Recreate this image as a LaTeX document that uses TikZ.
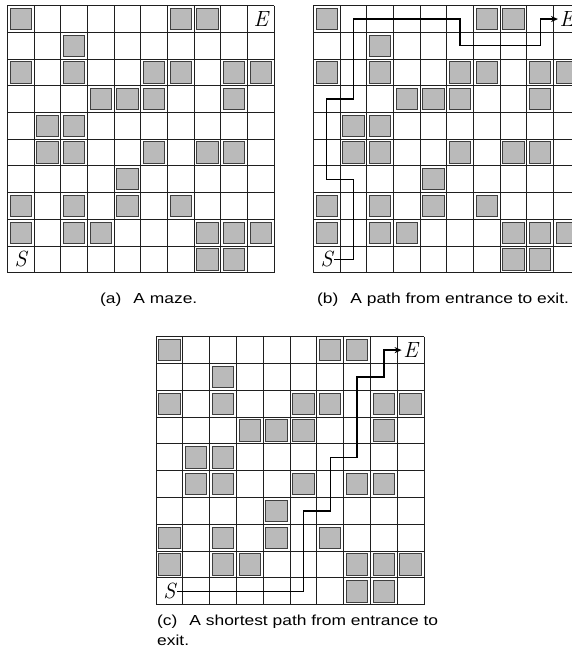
\documentclass[tikz,border=0pt]{standalone}
\usepackage{fontspec}
\newfontfamily\capfont{Liberation Sans}[FakeStretch=1.2]
\usetikzlibrary{arrows.meta}

\tikzset{
  gridline/.style={line width=0.95pt, draw=black!88},
  block/.style={fill=black!27, draw=black!75, line width=0.9pt},
  endlabel/.style={font=\fontsize{22}{26}\selectfont\itshape, inner sep=1.5pt},
  route/.style={line width=1.4pt, draw=black, -{Stealth[length=7pt,width=6pt]}},
  caption/.style={font=\capfont\fontsize{14.5}{20}\selectfont, inner sep=0pt, anchor=base west}
}

% #1 x0, #2 y0, #3 cell size, #4 suffix, #5 extra drawing in cell units
\newcommand\drawmaze[5]{%
  \begin{scope}[xshift=#1pt, yshift=-#2pt, x=#3pt, y=-#3pt]
    \foreach \i in {0,...,10} {
      \draw[gridline] (\i,0) -- (\i,10);
      \draw[gridline] (0,\i) -- (10,\i);
    }
    \foreach \c/\r in {0/0,6/0,7/0, 2/1, 0/2,2/2,5/2,6/2,8/2,9/2,
                       3/3,4/3,5/3,8/3, 1/4,2/4, 1/5,2/5,5/5,7/5,8/5,
                       4/6, 0/7,2/7,4/7,6/7, 0/8,2/8,3/8,7/8,8/8,9/8, 7/9,8/9}
      \draw[block] (\c+0.1,\r+0.1) rectangle (\c+0.9,\r+0.9);
    \node[endlabel] (S#4) at (0.5,9.5) {S};
    \node[endlabel] (E#4) at (9.5,0.5) {E};
    #5
  \end{scope}
}

\begin{document}
\begin{tikzpicture}[x=1pt,y=-1pt]
  \useasboundingbox (0,0) rectangle (572,658);
  \clip (0,0) rectangle (572,658);

  \drawmaze{7.3}{5.7}{26.7}{a}{}
  \drawmaze{313.3}{5.7}{26.7}{b}{%
    \draw[route] (Sb.east) -- (1.5,9.5) -- (1.5,6.5) -- (0.5,6.5) -- (0.5,3.5)
      -- (1.5,3.5) -- (1.5,0.5) -- (5.5,0.5) -- (5.5,1.5) -- (8.5,1.5)
      -- (8.5,0.5) -- (Eb.west);
  }
  \drawmaze{156}{336.7}{26.8}{c}{%
    \draw[route] (Sc.east) -- (5.5,9.5) -- (5.5,6.5) -- (6.5,6.5) -- (6.5,4.5)
      -- (7.5,4.5) -- (7.5,1.5) -- (8.5,1.5) -- (8.5,0.5) -- (Ec.west);
  }

  \node[caption] (capa) at (100,303.5) {(a)\hspace{12pt}A maze.};
  \node[caption] (capb) at (317,303.5) {(b)\hspace{12pt}A path from entrance to exit.};
  \node[caption] (capc1) at (157,625) {(c)\hspace{12pt}A shortest path from entrance to};
  \node[caption] (capc2) at (157,645) {exit.};
\end{tikzpicture}
\end{document}
